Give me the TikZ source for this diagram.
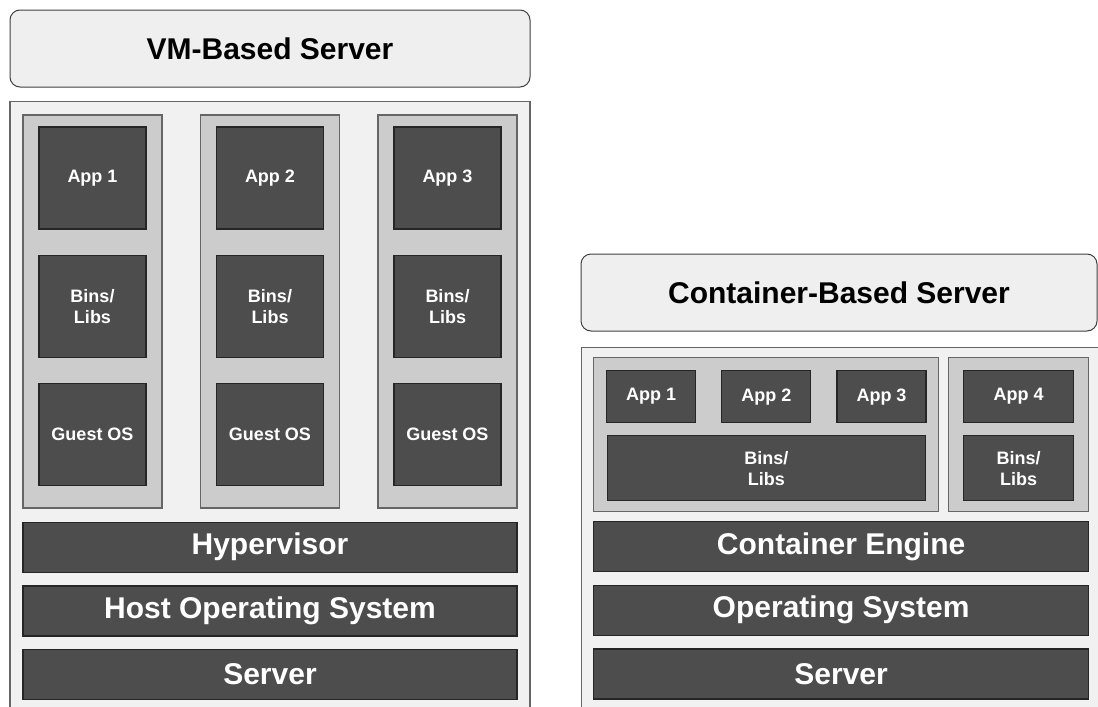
\documentclass[tikz,border=0pt]{standalone}
\usepackage{fontspec}
\setmainfont{Liberation Sans}
\usetikzlibrary{positioning}
\definecolor{titlefill}{HTML}{EFEFEF}
\definecolor{hostfill}{HTML}{F1F1F1}
\definecolor{vmfill}{HTML}{CCCCCC}
\definecolor{layerfill}{HTML}{4D4D4D}
\definecolor{edgegray}{HTML}{666666}

\begin{document}
\begin{tikzpicture}[x=1pt, y=-1pt,
  node distance=25pt,
  title/.style={draw=black!75, fill=titlefill, rounded corners=10pt, line width=1pt,
                minimum width=520pt, minimum height=77pt, inner sep=0pt,
                font=\fontsize{30}{35}\selectfont\bfseries},
  host/.style={draw=edgegray, fill=hostfill, line width=1.2pt, inner sep=0pt},
  vm/.style={draw=edgegray, fill=vmfill, line width=1.2pt, inner sep=0pt},
  layer/.style={draw=black!85, fill=layerfill, line width=1.2pt, text=white, inner sep=0pt,
                align=center, font=\fontsize{18}{21}\selectfont\bfseries},
  cell/.style={layer, minimum width=107pt, minimum height=102pt},
  appbox/.style={layer, minimum width=89pt, minimum height=52pt},
  bar/.style={layer, minimum height=50pt, font=\fontsize{30}{35}\selectfont\bfseries}]
\clip (0,0) rectangle (1098,707);
% VM-based server
\node[title] (vmtitle) at (270,48.5) {VM-Based Server};
\node[host, minimum width=520pt, minimum height=640pt, anchor=north] (vmhost) at (270,101) {};
\node[vm, minimum width=139pt, minimum height=393pt] (vm1) at (92.5,311.5) {};
\node[vm, minimum width=139pt, minimum height=393pt] (vm2) at (270,311.5) {};
\node[vm, minimum width=139pt, minimum height=393pt] (vm3) at (447.5,311.5) {};
\node[cell, below=12pt of vm1.north] (app1) {App 1};
\node[cell, below=of app1] (bins1) {Bins/\\Libs};
\node[cell, below=of bins1] (guest1) {Guest OS};
\node[cell, below=12pt of vm2.north] (app2) {App 2};
\node[cell, below=of app2] (bins2) {Bins/\\Libs};
\node[cell, below=of bins2] (guest2) {Guest OS};
\node[cell, below=12pt of vm3.north] (app3) {App 3};
\node[cell, below=of app3] (bins3) {Bins/\\Libs};
\node[cell, below=of bins3] (guest3) {Guest OS};
\node[bar, minimum width=494pt, below=13pt of vm2.south] (hyper) {Hypervisor};
\node[bar, minimum width=494pt, below=12.5pt of hyper] (hostos) {Host Operating System};
\node[bar, minimum width=494pt, below=12.5pt of hostos] (vmserver) {Server};
% container-based server
\node[title, minimum width=516pt] (cttitle) at (839,292.5) {Container-Based Server};
\node[host, minimum width=520pt, minimum height=400pt, anchor=north west] (cthost) at (581,347) {};
\node[vm, minimum width=345pt, minimum height=154pt, anchor=north west] (grp1) at (593,357) {};
\node[vm, minimum width=140pt, minimum height=154pt, anchor=north west] (grp2) at (948,357) {};
\node[appbox, anchor=north west] (capp1) at (606,370) {App 1};
\node[appbox, right=of capp1] (capp2) {App 2};
\node[appbox, right=of capp2] (capp3) {App 3};
\node[layer, minimum width=318pt, minimum height=65pt, below=12pt of capp2] (cbins) {Bins/\\Libs};
\node[appbox, minimum width=110pt, below=13pt of grp2.north] (capp4) {App 4};
\node[layer, minimum width=110pt, minimum height=65pt, below=12pt of capp4] (cbins4) {Bins/\\Libs};
\node[bar, minimum width=495pt, anchor=north west] (engine) at (593,521) {Container Engine};
\node[bar, minimum width=495pt, below=12.5pt of engine] (ctos) {Operating System};
\node[bar, minimum width=495pt, below=12.5pt of ctos] (ctserver) {Server};
\end{tikzpicture}
\end{document}
